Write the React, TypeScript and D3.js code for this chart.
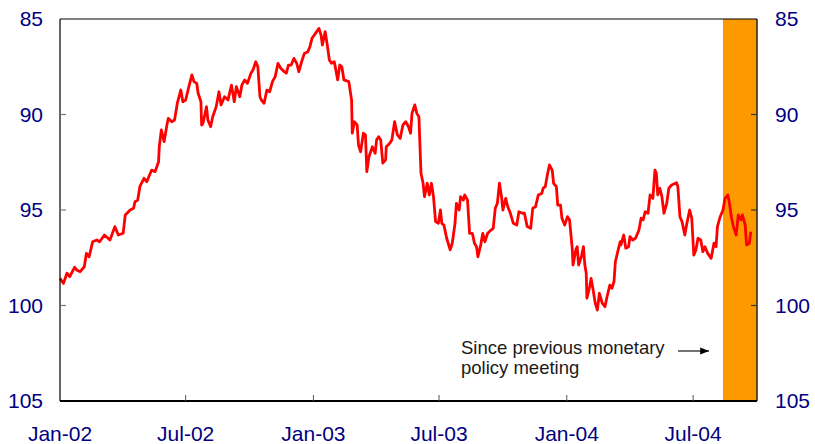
import React from 'react';
import * as d3 from 'd3';

// index level (inverted scale)
const series2002: [string, number][] = [
  ['2002-01-01', 98.58], ['2002-01-06', 98.84], ['2002-01-11', 98.31], ['2002-01-15', 98.49],
  ['2002-01-22', 98.0], ['2002-01-25', 98.14], ['2002-01-30', 98.23], ['2002-02-05', 97.97],
  ['2002-02-08', 97.27], ['2002-02-12', 97.45], ['2002-02-17', 96.66], ['2002-02-23', 96.57],
  ['2002-02-27', 96.66], ['2002-03-06', 96.31], ['2002-03-14', 96.57], ['2002-03-21', 95.87],
  ['2002-03-26', 96.31], ['2002-04-02', 96.22], ['2002-04-05', 95.26], ['2002-04-12', 95.0],
  ['2002-04-17', 94.91], ['2002-04-19', 94.57], ['2002-04-23', 94.48], ['2002-04-26', 93.78],
  ['2002-05-02', 93.34], ['2002-05-06', 93.52], ['2002-05-13', 92.91], ['2002-05-18', 92.99],
  ['2002-05-23', 92.47], ['2002-05-24', 91.69], ['2002-05-27', 90.81], ['2002-05-31', 91.42],
  ['2002-06-04', 90.55], ['2002-06-06', 90.2], ['2002-06-11', 90.38], ['2002-06-15', 90.29],
  ['2002-06-19', 89.41], ['2002-06-24', 88.72], ['2002-06-27', 89.33], ['2002-07-01', 89.24],
  ['2002-07-05', 88.63], ['2002-07-10', 87.93], ['2002-07-13', 88.28], ['2002-07-17', 88.37],
  ['2002-07-19', 88.89], ['2002-07-23', 89.33], ['2002-07-24', 90.55], ['2002-07-26', 90.46],
  ['2002-07-31', 89.59], ['2002-08-02', 90.29], ['2002-08-06', 90.64], ['2002-08-09', 90.12],
  ['2002-08-14', 89.59], ['2002-08-18', 88.81], ['2002-08-21', 89.5], ['2002-08-26', 89.07],
  ['2002-08-31', 89.24], ['2002-09-05', 88.46], ['2002-09-09', 89.33], ['2002-09-12', 88.54],
  ['2002-09-17', 89.07], ['2002-09-20', 88.46], ['2002-09-24', 88.19], ['2002-09-28', 88.37],
  ['2002-10-03', 87.84], ['2002-10-06', 87.67], ['2002-10-10', 87.24], ['2002-10-13', 87.5],
  ['2002-10-16', 89.07], ['2002-10-18', 89.24], ['2002-10-22', 89.41], ['2002-10-26', 88.72],
  ['2002-10-30', 88.81], ['2002-11-03', 88.28], ['2002-11-07', 88.02], ['2002-11-11', 87.32],
  ['2002-11-15', 87.58], ['2002-11-20', 87.76], ['2002-11-23', 87.84], ['2002-11-26', 87.41],
  ['2002-11-30', 87.41], ['2002-12-04', 87.06], ['2002-12-08', 87.32], ['2002-12-11', 87.76],
  ['2002-12-15', 87.24], ['2002-12-19', 86.8], ['2002-12-24', 86.71], ['2002-12-27', 86.45],
  ['2002-12-30', 86.01],
];

const series2003: [string, number][] = [
  ['2003-01-04', 85.75], ['2003-01-09', 85.49], ['2003-01-12', 85.84], ['2003-01-14', 86.36],
  ['2003-01-18', 85.66], ['2003-01-21', 86.36], ['2003-01-24', 87.15], ['2003-01-27', 87.32],
  ['2003-01-31', 87.24], ['2003-02-01', 87.41], ['2003-02-05', 88.19], ['2003-02-08', 87.41],
  ['2003-02-11', 87.5], ['2003-02-14', 88.19], ['2003-02-21', 88.28], ['2003-02-25', 89.24],
  ['2003-02-26', 90.98], ['2003-03-01', 90.38], ['2003-03-05', 90.55], ['2003-03-07', 91.6],
  ['2003-03-10', 91.95], ['2003-03-14', 90.98], ['2003-03-17', 91.07], ['2003-03-19', 92.99],
  ['2003-03-22', 92.21], ['2003-03-27', 91.69], ['2003-03-31', 92.03], ['2003-04-02', 91.34],
  ['2003-04-05', 91.16], ['2003-04-08', 91.34], ['2003-04-11', 92.55], ['2003-04-15', 92.38],
  ['2003-04-16', 91.69], ['2003-04-21', 91.51], ['2003-04-24', 91.34], ['2003-04-28', 90.38],
  ['2003-05-02', 91.07], ['2003-05-06', 91.25], ['2003-05-10', 90.55], ['2003-05-14', 90.38],
  ['2003-05-18', 90.64], ['2003-05-21', 90.98], ['2003-05-23', 89.94], ['2003-05-27', 89.5],
  ['2003-05-30', 89.94], ['2003-06-02', 90.12], ['2003-06-05', 93.08], ['2003-06-08', 93.6],
  ['2003-06-10', 94.3], ['2003-06-14', 93.6], ['2003-06-17', 94.21], ['2003-06-20', 93.6],
  ['2003-06-23', 94.3], ['2003-06-26', 95.61], ['2003-06-30', 95.7], ['2003-07-03', 95.0],
  ['2003-07-05', 95.7], ['2003-07-08', 95.79], ['2003-07-12', 96.48], ['2003-07-17', 97.09],
  ['2003-07-20', 96.74], ['2003-07-24', 95.7], ['2003-07-26', 94.65], ['2003-07-30', 95.0],
  ['2003-08-01', 94.3], ['2003-08-05', 94.48], ['2003-08-07', 94.21], ['2003-08-11', 94.48],
  ['2003-08-14', 96.22], ['2003-08-18', 96.22], ['2003-08-21', 96.74], ['2003-08-24', 96.92],
  ['2003-08-26', 97.45], ['2003-08-30', 96.83], ['2003-09-02', 96.22], ['2003-09-05', 96.66],
  ['2003-09-09', 96.22], ['2003-09-14', 96.05], ['2003-09-17', 95.96], ['2003-09-20', 94.91],
  ['2003-09-23', 94.65], ['2003-09-26', 93.6], ['2003-09-29', 94.3], ['2003-10-01', 95.0],
  ['2003-10-05', 94.39], ['2003-10-08', 94.83], ['2003-10-11', 95.09], ['2003-10-16', 95.7],
  ['2003-10-21', 95.79], ['2003-10-24', 95.09], ['2003-10-29', 95.17], ['2003-11-01', 95.17],
  ['2003-11-05', 95.87], ['2003-11-10', 95.96], ['2003-11-13', 94.91], ['2003-11-17', 94.83],
  ['2003-11-21', 94.21], ['2003-11-26', 94.13], ['2003-11-28', 93.86], ['2003-12-01', 93.78],
  ['2003-12-04', 93.17], ['2003-12-07', 92.64], ['2003-12-11', 92.91], ['2003-12-13', 93.6],
  ['2003-12-17', 93.78], ['2003-12-19', 94.74], ['2003-12-23', 94.74], ['2003-12-25', 95.43],
  ['2003-12-29', 95.79],
];

const series2004: [string, number][] = [
  ['2004-01-02', 95.35], ['2004-01-05', 95.52], ['2004-01-09', 97.09], ['2004-01-10', 97.88],
  ['2004-01-14', 97.09], ['2004-01-16', 96.92], ['2004-01-18', 97.88], ['2004-01-22', 97.45],
  ['2004-01-25', 96.92], ['2004-01-27', 97.88], ['2004-01-29', 98.31], ['2004-01-30', 99.62],
  ['2004-02-03', 99.02], ['2004-02-05', 98.58], ['2004-02-08', 99.19], ['2004-02-11', 99.88],
  ['2004-02-14', 100.24], ['2004-02-17', 99.36], ['2004-02-21', 99.88], ['2004-02-25', 100.06],
  ['2004-02-28', 99.54], ['2004-03-03', 98.93], ['2004-03-06', 99.1], ['2004-03-09', 98.75],
  ['2004-03-11', 97.71], ['2004-03-15', 97.09], ['2004-03-18', 96.66], ['2004-03-19', 96.83],
  ['2004-03-23', 96.31], ['2004-03-26', 97.0], ['2004-03-30', 96.92], ['2004-04-01', 96.4],
  ['2004-04-05', 96.57], ['2004-04-09', 96.48], ['2004-04-14', 96.05], ['2004-04-17', 95.43],
  ['2004-04-20', 95.52], ['2004-04-23', 95.09], ['2004-04-27', 95.17], ['2004-04-30', 94.21],
  ['2004-05-04', 94.39], ['2004-05-07', 92.91], ['2004-05-09', 93.08], ['2004-05-11', 94.21],
  ['2004-05-14', 93.86], ['2004-05-17', 94.3], ['2004-05-20', 95.17], ['2004-05-24', 94.65],
  ['2004-05-27', 93.86], ['2004-05-31', 93.69], ['2004-06-07', 93.57], ['2004-06-09', 93.78],
  ['2004-06-12', 95.35], ['2004-06-15', 95.61], ['2004-06-19', 96.31], ['2004-06-22', 95.7],
  ['2004-06-26', 95.0], ['2004-06-29', 95.43], ['2004-07-02', 97.36], ['2004-07-05', 97.09],
  ['2004-07-08', 96.48], ['2004-07-12', 96.57], ['2004-07-15', 97.18], ['2004-07-18', 96.92],
  ['2004-07-22', 97.27], ['2004-07-27', 97.53], ['2004-07-31', 96.74], ['2004-08-03', 96.92],
  ['2004-08-05', 95.87], ['2004-08-09', 95.35], ['2004-08-13', 95.0], ['2004-08-16', 94.39],
  ['2004-08-20', 94.21], ['2004-08-22', 94.57], ['2004-08-25', 95.35], ['2004-08-28', 95.87],
  ['2004-09-01', 96.31], ['2004-09-04', 95.26], ['2004-09-08', 95.52], ['2004-09-10', 95.26],
  ['2004-09-14', 95.79], ['2004-09-16', 96.83], ['2004-09-20', 96.74], ['2004-09-22', 96.14],
];

const xTicks = ['2002-01-01', '2002-07-01', '2003-01-01', '2003-07-01', '2004-01-01', '2004-07-01'];
const yTicks = [85, 90, 95, 100, 105];
const period = ['2002-01-01', '2004-10-01'];
const sinceMeeting = '2004-08-13';
const noteLines = ['Since previous monetary', 'policy meeting'];

const W = 815;
const H = 444;
const margin = { top: 19, right: 58, bottom: 43, left: 60 };
const font = '"Liberation Sans", Arial, sans-serif';
const navy = '#000080';

const parse = d3.timeParse('%Y-%m-%d');
const fmt = d3.timeFormat('%b-%y');

export default function App() {
  const data = [...series2002, ...series2003, ...series2004].map(([d, v]) => ({ date: parse(d)!, value: v }));

  const x = d3.scaleTime()
    .domain(period.map(d => parse(d)!))
    .range([margin.left, W - margin.right]);
  const y = d3.scaleLinear()
    .domain([85, 105])
    .range([margin.top, H - margin.bottom]);

  const line = d3.line<{ date: Date; value: number }>()
    .x(d => x(d.date))
    .y(d => y(d.value));

  const x0 = margin.left;
  const x1 = W - margin.right;
  const y0 = margin.top;
  const y1 = H - margin.bottom;
  const bandX = x(parse(sinceMeeting)!);

  return (
    <svg width={W} height={H} style={{ position: 'absolute', left: 0, top: 0, background: '#fff' }}>
      <rect x={bandX} y={y0} width={x1 - bandX} height={y1 - y0} fill="#ff9900" />
      <path d={line(data) ?? ''} fill="none" stroke="#ff0000" strokeWidth={2.8} strokeLinejoin="round" />

      {/* frame */}
      <line x1={x0} x2={x1} y1={y0} y2={y0} stroke="#000" strokeWidth={1.2} />
      <line x1={x0} x2={x0} y1={y0} y2={y1} stroke="#000" strokeWidth={1.2} />
      <line x1={x1} x2={x1} y1={y0} y2={y1} stroke="#222" strokeWidth={1.5} />
      <line x1={x0} x2={x1} y1={y1} y2={y1} stroke="#000" strokeWidth={2} />

      {yTicks.slice(1, -1).map(t => (
        <g key={t}>
          <line x1={x0} x2={x0 + 6} y1={y(t)} y2={y(t)} stroke="#777" strokeWidth={1.2} />
          <line x1={x1 - 6} x2={x1} y1={y(t)} y2={y(t)} stroke="#333" strokeWidth={1.2} />
        </g>
      ))}
      {yTicks.map(t => (
        <g key={'l' + t} fontFamily={font} fontSize={21} fill={navy}>
          <text x={43} y={y(t)} dy="0.35em" textAnchor="end">{t}</text>
          <text x={775} y={y(t)} dy="0.35em" textAnchor="start">{t}</text>
        </g>
      ))}

      {xTicks.map(t => {
        const xv = x(parse(t)!);
        return (
          <g key={t}>
            {xv > x0 + 1 && <line x1={xv} x2={xv} y1={y1} y2={y1 - 6} stroke="#555" strokeWidth={1} />}
            <text x={xv} y={441} textAnchor="middle" fontFamily={font} fontSize={21} fill={navy}>{fmt(parse(t)!)}</text>
          </g>
        );
      })}

      <defs>
        <marker id="arr" viewBox="0 0 10 10" refX={10} refY={5} markerWidth={8} markerHeight={8} orient="auto">
          <path d="M0,1 L10,5 L0,9 z" fill="#000" />
        </marker>
      </defs>
      {noteLines.map((s, i) => (
        <text key={s} x={461} y={354 + i * 20} fontFamily={font} fontSize={18.5} fill="#1a1a1a">{s}</text>
      ))}
      <line x1={678} x2={709} y1={351} y2={351} stroke="#000" strokeWidth={1.1} markerEnd="url(#arr)" />
    </svg>
  );
}
